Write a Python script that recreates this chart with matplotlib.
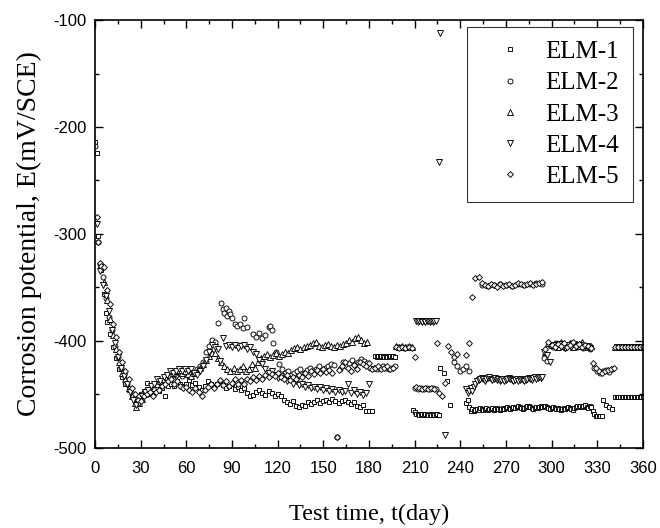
import matplotlib
matplotlib.use("Agg")
import matplotlib.pyplot as plt
from matplotlib.ticker import MultipleLocator

plt.rcParams['axes.unicode_minus'] = False

# ELM-1 (squares)
elm1_days = [0, 1, 2, 4, 6, 7, 8, 10, 12, 14, 16, 18, 20, 22, 24, 26, 28, 30,
             32, 34, 36, 38, 40, 42, 44, 46, 48, 50, 52, 54, 56, 58, 60,
             62, 64, 66, 68, 70, 72, 74, 76, 78, 80, 82, 84, 86, 88, 90,
             92, 94, 96, 98, 100, 102, 104, 106, 108, 110, 112, 114, 116, 118, 120,
             122, 124, 126, 128, 130, 132, 134, 136, 138, 140, 142, 144, 146, 148, 150,
             152, 154, 156, 158, 160, 162, 164, 166, 168, 170, 172, 174, 176, 178, 180, 182,
             184, 185, 186, 187, 188, 189, 190, 191, 192, 193, 194, 195, 196, 197,
             209, 210, 211, 212, 213, 214, 215, 216, 217, 218, 219, 220, 221, 222, 223, 224, 225, 226,
             227, 229, 231, 233]
elm1_vals = [-214, -224, -302, -334, -356, -374, -382, -394, -406, -416, -426, -434, -440, -446, -452, -455, -452, -450,
             -448, -439, -450, -448, -446, -447, -444, -452, -442, -440, -442, -438, -440, -442, -440,
             -437, -441, -439, -443, -446, -442, -438, -440, -443, -440, -438, -441, -444, -442, -440,
             -445, -443, -446, -444, -449, -452, -451, -448, -446, -449, -451, -447, -449, -452, -450,
             -452, -455, -457, -459, -456, -461, -462, -460, -461, -457, -459, -457, -455, -458, -456,
             -455, -457, -454, -456, -458, -456, -455, -457, -459, -457, -461, -462, -460, -466, -466, -466,
             -414, -415, -414, -415, -414, -414, -415, -414, -415, -414, -414, -415, -414, -415,
             -465, -467, -468, -468, -469, -468, -468, -469, -468, -469, -469, -468, -469, -468, -469, -469, -468, -469,
             -425, -430, -438, -460]
# ELM-1 late period, one reading a day
elm1_late_days = list(range(244, 327)) + [327, 328, 329, 330, 331, 332, 333, 334, 336, 338, 340] + list(range(342, 361))
elm1_late_vals = [-458, -455, -462, -466, -464, -466, -465, -464, -465, -463, -464, -465, -464, -463, -465, -464,
                  -464, -463, -465, -464, -463, -464, -465, -464, -463, -464, -463, -462, -463, -464, -463, -462,
                  -463, -462, -461, -462, -463, -464, -463, -462, -461, -461, -462, -463, -464, -463, -462, -463,
                  -462, -461, -462, -461, -461, -462, -463, -464, -463, -462, -463, -464, -463, -464, -465, -464,
                  -463, -464, -463, -462, -463, -464, -465, -463, -462, -461, -462, -461, -462, -461, -460, -462,
                  -463, -461, -462,
                  -466, -468, -470, -470, -470, -470, -470, -455, -460, -462, -464,
                  -453, -453, -453, -453, -453, -453, -453, -453, -453, -453, -453, -453, -453, -453, -453, -453,
                  -453, -453, -453]

# ELM-2 (circles)
elm2_days = [0, 2, 3, 5, 7, 9, 11, 13, 15, 17, 19, 21, 23, 25, 27, 29,
             31, 33, 35, 37, 39, 41, 43, 45, 47, 49, 51, 53, 55, 57, 59,
             61, 63, 65, 67, 69, 71, 73, 75, 77, 79, 81, 83, 84, 85, 86, 87, 88, 89, 90,
             92, 93, 95, 97, 98, 100, 104, 106, 108, 110, 112, 114, 115, 116, 117, 119,
             121, 123, 125, 127, 129, 131, 133, 135, 137, 139, 141, 143, 145, 147, 149,
             151, 153, 155, 157, 159, 161, 163, 165, 167, 169, 171, 173, 175, 177, 179,
             181, 183, 185, 187, 189, 191, 193, 195, 197,
             199, 201, 203, 205, 207,
             210, 212, 214, 216, 218, 220, 222, 224,
             236, 238, 240, 242, 244, 246,
             254, 258, 262, 266, 270, 274, 278, 282, 286, 290, 294,
             295, 297, 299, 301, 303, 305, 307, 309, 311, 313, 315, 317, 319, 321, 323, 325,
             328, 330, 332, 334, 336, 338, 340,
             343, 345, 347, 349, 351, 353, 355, 357, 359]
elm2_vals = [-218, -308, -328, -340, -360, -378, -390, -405, -415, -425, -432, -440, -446, -450, -454, -452,
             -450, -447, -449, -446, -448, -444, -442, -438, -436, -434, -436, -432, -430, -433, -430,
             -428, -431, -430, -426, -424, -420, -410, -405, -399, -401, -383, -365, -370, -374, -369, -377, -372, -375, -379,
             -384, -386, -384, -388, -379, -387, -394, -396, -393, -397, -395, -387, -386, -390, -402, -410,
             -422, -426, -430, -428, -432, -430, -428, -426, -430, -427, -425, -428, -426, -424, -428,
             -425, -424, -422, -423, -490, -426, -420, -424, -421, -418, -422, -420, -417, -419, -421,
             -425, -425, -426, -425, -424, -425, -426, -425, -424,
             -406, -406, -407, -406, -406,
             -444, -445, -444, -445, -444, -445, -444, -445,
             -420, -424, -428, -426, -424, -428,
             -348, -349, -348, -347, -348, -349, -347, -348, -347, -346, -347,
             -416, -419, -404, -406, -402, -405, -403, -407, -404, -402, -405, -406, -403, -407, -405, -408,
             -425, -428, -430, -428, -427, -429, -426,
             -406, -406, -406, -406, -406, -406, -406, -406, -406]

# ELM-3 (up triangles)
elm3_days = [4, 6, 8, 10, 12, 14, 16, 18, 20, 22, 24, 26, 27, 29,
             31, 33, 35, 37, 39, 41, 43, 45, 47, 49, 51, 53, 55, 57, 59,
             61, 63, 65, 67, 69, 71, 73, 75, 77, 79, 81, 83, 85, 87, 89,
             91, 93, 95, 97, 99, 101, 103, 105, 107, 109, 111, 113, 115, 117, 119,
             121, 123, 125, 127, 129, 131, 133, 135, 137, 139, 141, 143, 145, 147, 149,
             151, 153, 155, 157, 159, 161, 163, 165, 167, 169, 171, 173, 175, 177, 179,
             198, 200, 202, 204, 206, 208,
             296, 298, 300, 302, 304, 306, 308, 310, 312, 314, 316, 318, 320, 322, 324, 326,
             342, 344, 346, 348, 350, 352, 354, 356, 358, 360]
elm3_vals = [-328, -345, -362, -380, -395, -408, -420, -430, -436, -444, -452, -458, -462, -458,
             -454, -450, -446, -448, -444, -440, -438, -436, -434, -432, -430, -428, -427, -430, -428,
             -431, -433, -430, -428, -425, -422, -418, -414, -411, -411, -416, -420, -424, -426, -428,
             -425, -428, -426, -424, -428, -426, -422, -425, -420, -416, -414, -412, -415, -413, -411,
             -414, -412, -410, -411, -409, -407, -406, -408, -406, -405, -404, -402, -401, -405, -406,
             -404, -403, -405, -406, -404, -405, -403, -402, -399, -401, -397, -396, -399, -402, -401,
             -405, -406, -405, -406, -405, -406,
             -410, -402, -404, -403, -406, -401, -405, -404, -402, -406, -403, -405, -401, -404, -406, -405,
             -406, -406, -406, -406, -406, -406, -406, -406, -406, -406]

# ELM-4 (down triangles)
elm4_days = [1, 3, 5, 7, 9, 11, 13, 15, 17, 19, 21, 23, 25, 27, 29,
             31, 33, 35, 37, 39, 41, 43, 45, 47, 49, 51, 53, 55, 57, 59,
             61, 63, 65, 67, 69, 71, 73, 75, 77, 79, 81, 82, 84, 86, 88, 90,
             92, 94, 96, 98, 100, 102, 104, 106, 108, 110, 112, 114, 116, 118, 120,
             122, 124, 126, 128, 130, 132, 134, 136, 138, 140, 142, 144, 146, 148, 150,
             152, 154, 156, 158, 160, 162, 164, 166, 168, 170, 172, 174, 176, 178, 180,
             211, 212, 213, 214, 215, 216, 217, 218, 219, 220, 221, 222, 223, 224,
             226, 227, 230]
elm4_vals = [-291, -335, -348, -358, -372, -390, -402, -415, -425, -433, -440, -448, -455, -460, -458,
             -452, -448, -446, -442, -440, -436, -438, -434, -432, -428, -430, -428, -426, -428, -426,
             -428, -426, -430, -432, -428, -424, -418, -410, -404, -406, -408, -419, -397, -405, -404, -406,
             -404, -407, -405, -404, -408, -406, -410, -412, -418, -422, -426, -430, -428, -432, -435,
             -433, -436, -438, -436, -440, -438, -441, -440, -443, -441, -444, -443, -445, -443, -446,
             -444, -447, -445, -448, -446, -448, -447, -440, -449, -446, -450, -448, -451, -449, -440,
             -381, -382, -381, -381, -382, -381, -382, -381, -381, -382, -381, -382, -381, -381,
             -233, -112, -488]
# ELM-4 late period, one reading a day up to day 294
elm4_late_days = list(range(244, 295)) + [295, 297, 299,
                  301, 303, 305, 307, 309, 311, 313, 315, 317, 319, 321, 323, 325,
                  343, 345, 347, 349, 351, 353, 355, 357, 359]
elm4_late_vals = [-445, -449, -447, -444, -447, -443, -440, -438, -437, -436, -435, -436, -438, -436, -435, -434,
                  -436, -437, -436, -435, -437, -436, -438, -437, -436, -438, -437, -436, -435, -436, -437, -438,
                  -437, -436, -438, -437, -436, -437, -438, -437, -436, -435, -436, -437, -435, -434, -436, -435,
                  -434, -435, -434,
                  -410, -413, -420,
                  -404, -406, -403, -405, -407, -404, -406, -403, -405, -404, -406, -405, -407,
                  -406, -406, -406, -406, -406, -406, -406, -406, -406]

# ELM-5 (diamonds)
elm5_days = [1, 2, 3, 4, 6, 8, 10, 12, 14, 16, 18, 20, 22, 24, 26, 28, 30,
             32, 34, 36, 38, 40, 42, 44, 46, 48, 50, 52, 54, 56, 58, 60,
             62, 64, 66, 68, 70, 72, 74, 76, 78, 80, 82, 84, 86, 88, 90,
             92, 94, 96, 98, 100, 102, 104, 106, 108, 110, 112, 114, 116, 118, 120,
             122, 124, 126, 128, 130, 132, 134, 136, 138, 140, 142, 144, 146, 148, 150,
             152, 154, 156, 159, 160, 162, 164, 166, 168, 170, 172, 174, 176, 178, 180,
             182, 184, 186, 188, 190, 192, 194, 196,
             198, 200, 202, 204, 206, 208, 210,
             211, 213, 215, 217, 219, 221, 223, 225,
             226, 228, 230, 232, 234, 236, 238, 244, 246, 248, 250, 252,
             254, 256, 258, 260, 262, 264, 266, 268, 270, 272, 274, 276, 278, 280,
             282, 284, 286, 288, 290, 292, 294,
             296, 298, 300, 302, 304, 306, 308, 310, 312, 314, 316, 318, 320, 322, 324, 326, 327,
             329, 331, 333, 335, 337, 339, 341,
             342, 344, 346, 348, 350, 352, 354, 356, 358, 360]
elm5_vals = [-284, -308, -327, -330, -331, -352, -366, -384, -396, -410, -420, -428, -436, -444, -450, -455, -456,
             -452, -450, -448, -452, -448, -446, -442, -440, -438, -436, -440, -438, -442, -444, -443,
             -446, -448, -444, -448, -452, -446, -443, -440, -444, -440, -437, -441, -438, -442, -439,
             -436, -440, -437, -440, -436, -438, -434, -437, -433, -436, -432, -434, -431, -433, -430,
             -434, -436, -432, -437, -434, -436, -432, -434, -430, -433, -428, -431, -427, -430, -426,
             -429, -427, -430, -490, -427, -424, -420, -425, -428, -423, -426, -420, -422, -424, -421,
             -426, -425, -424, -426, -425, -424, -426, -425,
             -406, -407, -406, -407, -406, -407, -415,
             -443, -444, -445, -444, -445, -444, -445, -402,
             -449, -452, -439, -405, -410, -415, -412, -413, -402, -359, -341, -340,
             -346, -348, -349, -347, -348, -350, -347, -349, -348, -347, -349, -348, -346, -347,
             -348, -347, -346, -348, -347, -346, -345,
             -408, -401, -404, -406, -403, -405, -402, -406, -404, -401, -405, -403, -406, -404, -405, -407, -421,
             -425, -428, -430, -428, -427, -426, -425,
             -406, -406, -406, -406, -406, -406, -406, -406, -406, -406]

fig, ax = plt.subplots(figsize=(6.6, 5.28), dpi=100)
fig.subplots_adjust(left=0.144, right=0.974, top=0.962, bottom=0.152)

style = dict(linestyle='none', markerfacecolor='white', markeredgecolor='black', markeredgewidth=0.65)
ax.plot(elm1_days + elm1_late_days, elm1_vals + elm1_late_vals, marker='s', markersize=3.2, label='ELM-1', **style)
ax.plot(elm2_days, elm2_vals, marker='o', markersize=3.6, label='ELM-2', **style)
ax.plot(elm3_days, elm3_vals, marker='^', markersize=3.8, label='ELM-3', **style)
ax.plot(elm4_days + elm4_late_days, elm4_vals + elm4_late_vals, marker='v', markersize=3.8, label='ELM-4', **style)
ax.plot(elm5_days, elm5_vals, marker='D', markersize=3.0, label='ELM-5', **style)

ax.set_xlim(0, 360)
ax.set_ylim(-500, -100)
ax.xaxis.set_major_locator(MultipleLocator(30))
ax.xaxis.set_minor_locator(MultipleLocator(15))
ax.yaxis.set_major_locator(MultipleLocator(100))
ax.yaxis.set_minor_locator(MultipleLocator(50))
ax.tick_params(which='both', direction='in', top=True, right=True, width=1)
ax.tick_params(which='major', length=6, labelsize=12)
ax.tick_params(axis='x', which='major', pad=9.5)
ax.tick_params(axis='y', which='major', pad=6)
ax.tick_params(which='minor', length=3)
for lab in ax.get_xticklabels() + ax.get_yticklabels():
    lab.set_family('Liberation Sans')
for s in ax.spines.values():
    s.set_linewidth(1.2)

ax.set_xlabel('Test time, t(day)', family='Liberation Serif', fontsize=17.5, labelpad=20)
ax.set_ylabel('Corrosion potential, E(mV/SCE)', family='Liberation Serif', fontsize=20, labelpad=8)

leg = ax.legend(loc='upper right', bbox_to_anchor=(0.982, 0.984), borderaxespad=0,
                prop={'family': 'Liberation Serif', 'size': 18}, frameon=True, fancybox=False,
                edgecolor='black', handlelength=2.34, handletextpad=0.27, labelspacing=0.35,
                borderpad=0.55, markerscale=1.0)
leg.get_frame().set_linewidth(0.8)

fig.savefig('out.png', dpi=100)
